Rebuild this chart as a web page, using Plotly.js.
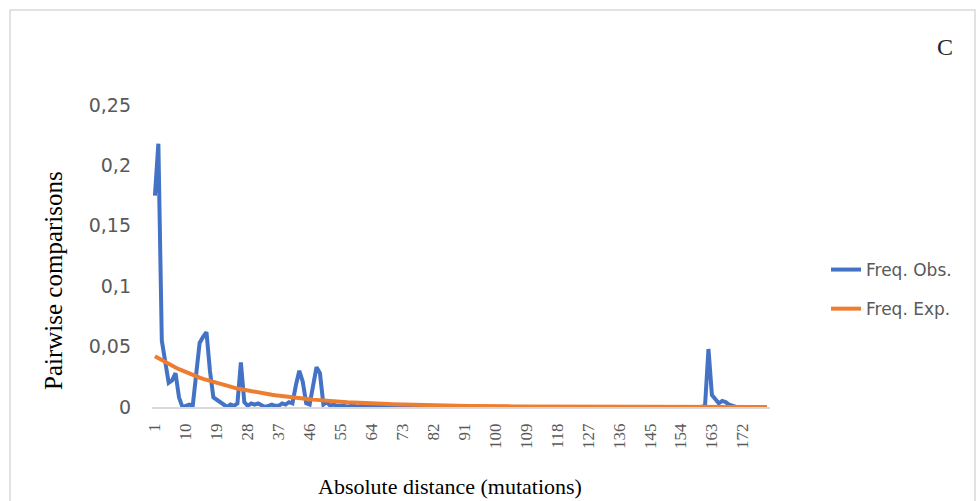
<!DOCTYPE html>
<html>
<head>
<meta charset="utf-8">
<script src="https://cdn.plot.ly/plotly-3.0.1.min.js"></script>
<style>html,body{margin:0;padding:0;background:#fff;}#chart{width:980px;height:501px;}</style>
</head>
<body>
<div id="chart"></div>
<script>
// Categories: absolute distance (mutations) 1..179
var nCategories = 179;
var categories = [];
for (var i = 1; i <= nCategories; i++) categories.push(i);

var xTickValues = [1,10,19,28,37,46,55,64,73,82,91,100,109,118,127,136,145,154,163,172];
var xTickLabels = ["1","10","19","28","37","46","55","64","73","82","91","100","109","118","127","136","145","154","163","172"];

var yTickValues = [0,0.05,0.1,0.15,0.2,0.25];
var yTickLabels = ["0","0,05","0,1","0,15","0,2","0,25"];

var freqObs = [
  0.175,0.218,0.055,0.035,0.020,0.022,0.028,0.008,0.000,0.001,
  0.002,0.001,0.025,0.053,0.058,0.062,0.030,0.008,0.006,0.004,
  0.001,0.000,0.002,0.001,0.003,0.037,0.004,0.001,0.003,0.002,
  0.003,0.001,0.000,0.001,0.002,0.001,0.001,0.003,0.002,0.004,
  0.003,0.018,0.030,0.021,0.003,0.002,0.020,0.033,0.028,0.002,
  0.004,0.001,0.002,0.001,0.001,0.001,0.000,0.001,0.001,0.000,
  0.001,0.000,0.001,0.000,0.001,0.000,0.000,0.001,0.000,0.000,
  0.001,0.000,0.000,0.000,0.000,0.000,0.000,0.000,0.000,0.000,
  0,0,0,0,0,0,0,0,0,0,
  0,0,0,0,0,0,0,0,0,0,
  0,0,0,0,0,0,0,0,0,0,
  0,0,0,0,0,0,0,0,0,0,
  0,0,0,0,0,0,0,0,0,0,
  0,0,0,0,0,0,0,0,0,0,
  0,0,0,0,0,0,0,0,0,0,
  0,0,0,0,0,0,0,0,0,0,
  0.001,0.048,0.010,0.006,0.003,0.005,0.004,0.002,0.001,0.000,
  0,0,0,0,0,0,0,0,0
];

// Expected frequency
var freqExp = [
  0.0420,0.0403,0.0386,0.0370,0.0355,0.0341,0.0327,0.0313,0.0300,0.0288,
  0.0276,0.0265,0.0254,0.0243,0.0233,0.0224,0.0215,0.0206,0.0197,0.0189,
  0.0181,0.0174,0.0167,0.0160,0.0153,0.0147,0.0141,0.0135,0.0130,0.0124,
  0.0119,0.0114,0.0110,0.0105,0.0101,0.0097,0.0093,0.0089,0.0085,0.0082,
  0.0078,0.0075,0.0072,0.0069,0.0066,0.0064,0.0061,0.0058,0.0056,0.0054,
  0.0052,0.0049,0.0047,0.0045,0.0044,0.0042,0.0040,0.0038,0.0037,0.0035,
  0.0034,0.0032,0.0031,0.0030,0.0029,0.0027,0.0026,0.0025,0.0024,0.0023,
  0.0022,0.0021,0.0020,0.0020,0.0019,0.0018,0.0017,0.0017,0.0016,0.0015,
  0.0015,0.0014,0.0013,0.0013,0.0012,0.0012,0.0011,0.0011,0.0010,0.0010,
  0.0010,0.0009,0.0009,0.0008,0.0008,0.0008,0.0007,0.0007,0.0007,0.0007,
  0.0006,0.0006,0.0006,0.0005,0.0005,0.0005,0.0005,0.0005,0.0004,0.0004,
  0.0004,0.0004,0.0004,0.0004,0.0003,0.0003,0.0003,0.0003,0.0003,0.0003,
  0.0003,0.0003,0.0002,0.0002,0.0002,0.0002,0.0002,0.0002,0.0002,0.0002,
  0.0002,0.0002,0.0002,0.0002,0.0001,0.0001,0.0001,0.0001,0.0001,0.0001,
  0.0001,0.0001,0.0001,0.0001,0.0001,0.0001,0.0001,0.0001,0.0001,0.0001,
  0.0001,0.0001,0.0001,0.0001,0.0001,0.0001,0.0001,0.0001,0.0001,0.0001,
  0.0001,0.0001,0.0001,0.0001,0.0001,0.0000,0.0000,0.0000,0.0000,0.0000,
  0,0,0,0,0,0,0,0,0
];

var seriesNames = ["Freq. Obs.", "Freq. Exp."];
var xTitle = "Absolute distance (mutations)";
var yTitle = "Pairwise comparisons";
var panelLabel = "C";

var traces = [
  {x: categories, y: freqObs, name: seriesNames[0], legendgroup: "obs", type: "scatter", mode: "lines",
   line: {color: "#4472C4", width: 4}, hoverinfo: "x+y"},
  {x: categories, y: freqExp, name: seriesNames[1], legendgroup: "exp", type: "scatter", mode: "lines",
   line: {color: "#ED7D31", width: 4}, hoverinfo: "x+y"}
];

var L = 152, R = 770, T = 105, B = 407;
var W = R - L, H = B - T;
function px(xp){ return (xp - L) / W; }
function py(yp){ return (B - yp) / H; }

var layout = {
  width: 980, height: 501,
  margin: {l: L, r: 980 - R, t: T, b: 501 - B, pad: 0},
  paper_bgcolor: "#ffffff", plot_bgcolor: "#ffffff",
  separators: ", ",
  showlegend: true,
  legend: {x: px(826), y: py(252), xanchor: "left", yanchor: "top",
           font: {family: "DejaVu Sans", size: 17, color: "#595959"},
           tracegroupgap: 14, itemwidth: 30, bgcolor: "rgba(0,0,0,0)"},
  xaxis: {
    range: [0.15, 179.9], tickmode: "array", tickvals: xTickValues, ticktext: xTickLabels,
    tickangle: -90, tickfont: {family: "Liberation Serif", size: 17, color: "#595959"},
    showgrid: false, zeroline: false, showline: true, linecolor: "#d9d9d9", linewidth: 1.5,
    ticks: "", ticklabelstandoff: 8, fixedrange: true
  },
  yaxis: {
    range: [0, 0.25], tickmode: "array", tickvals: yTickValues, ticktext: yTickLabels,
    tickfont: {family: "DejaVu Sans", size: 19, color: "#595959"},
    showgrid: false, zeroline: false, showline: false,
    ticks: "", ticklabelstandoff: 20, fixedrange: true
  },
  annotations: [
    {text: yTitle, xref: "paper", yref: "paper", x: px(53), y: py(280), xanchor: "center", yanchor: "middle",
     textangle: -90, showarrow: false, font: {family: "Liberation Serif", size: 25, color: "#000000"}},
    {text: xTitle, xref: "paper", yref: "paper", x: px(450), y: py(486), xanchor: "center", yanchor: "middle",
     showarrow: false, font: {family: "Liberation Serif", size: 22, color: "#000000"}},
    {text: panelLabel, xref: "paper", yref: "paper", x: px(945), y: py(47), xanchor: "center", yanchor: "middle",
     showarrow: false, font: {family: "Liberation Serif", size: 24, color: "#262626"}}
  ],
  shapes: [
    {type: "rect", xref: "paper", yref: "paper", x0: px(10), x1: px(975), y0: py(520), y1: py(10),
     line: {color: "#d9d9d9", width: 1.5}, fillcolor: "rgba(0,0,0,0)", layer: "below"}
  ]
};

Plotly.newPlot("chart", traces, layout, {displayModeBar: false, staticPlot: false});
</script>
</body>
</html>
